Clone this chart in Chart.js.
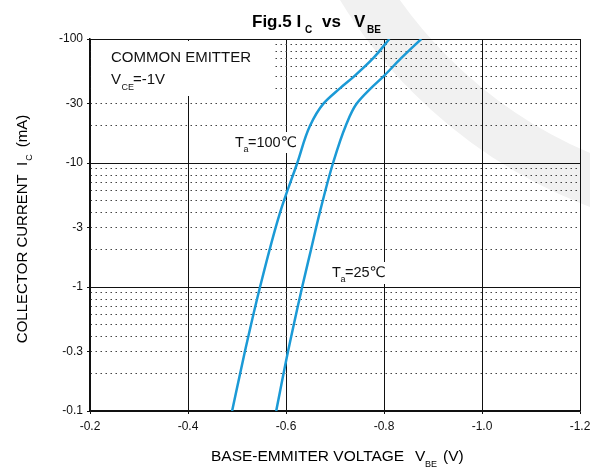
<!DOCTYPE html>
<html>
<head>
<meta charset="utf-8">
<script src="https://cdn.jsdelivr.net/npm/chart.js@4.4.0/dist/chart.umd.min.js"></script>
<style>
  body { margin: 0; background: #fff; }
  #wrap { width: 590px; height: 468px; }
</style>
</head>
<body>
<div id="wrap"><canvas id="ic-vbe" width="590" height="468"></canvas></div>
<script>
// Ta = 100 C curve (VBE in V, IC in mA)
const vbe100 = [-0.490, -0.516, -0.547, -0.588, -0.623, -0.649, -0.676, -0.710, -0.739, -0.778, -0.811];
const ic100  = [-0.1, -0.3, -1, -4, -10, -20, -30, -40, -50, -70, -100];

// Ta = 25 C curve
const vbe25 = [-0.580, -0.604, -0.633, -0.651, -0.669, -0.696, -0.722, -0.744, -0.773, -0.799, -0.835, -0.876];
const ic25  = [-0.1, -0.3, -1, -2, -4, -10, -20, -30, -40, -50, -70, -100];

const xTickValues = [-0.2, -0.4, -0.6, -0.8, -1.0, -1.2];
const yTickLabels = [-0.1, -0.3, -1, -3, -10, -30, -100];

const FONT = '"Liberation Sans", Arial, "DejaVu Sans", "Noto Sans CJK SC", sans-serif';
const LINE_COLOR = '#1b9ad6';

// every 1..9 step of each decade, as magnitudes for the log axis
const yGridValues = [];
[0.1, 1, 10].forEach(d => {
  for (let m = 1; m <= 9; m++) yGridValues.push(Number((d * m).toPrecision(3)));
});
yGridValues.push(100);

const isDecade = v => Math.abs(Math.log10(v) - Math.round(Math.log10(v))) < 1e-6;
const labelled = v => yTickLabels.some(l => Math.abs(Math.abs(l) - v) < 1e-9);

function toPoints(xs, ys) {
  return xs.map((x, i) => ({ x: x, y: Math.abs(ys[i]) }));
}

// draws text pieces [text, x, baseline, size, bold]
function drawPieces(ctx, pieces) {
  pieces.forEach(p => {
    ctx.font = (p[4] ? 'bold ' : '') + p[3] + 'px ' + FONT;
    ctx.fillText(p[0], p[1], p[2]);
  });
}

const decorations = {
  id: 'decorations',
  beforeDraw(chart) {
    // faint watermark band
    const ctx = chart.ctx;
    ctx.save();
    ctx.strokeStyle = '#f1f1f1';
    ctx.lineWidth = 50;
    ctx.beginPath();
    ctx.arc(766, -260, 474, 0, Math.PI * 2);
    ctx.stroke();
    ctx.restore();
  },
  beforeDatasetsDraw(chart) {
    const ctx = chart.ctx;
    ctx.save();
    // white boxes behind the notes
    ctx.fillStyle = '#fff';
    ctx.fillRect(91, 41, 181, 55);
    ctx.fillRect(233, 132, 67, 21);
    ctx.fillRect(330, 262, 57, 22);

    ctx.fillStyle = '#111';
    ctx.textAlign = 'left';
    ctx.textBaseline = 'alphabetic';
    drawPieces(ctx, [
      ['COMMON EMITTER', 111, 62, 15],
      ['V', 111, 84, 15],
      ['CE', 121.5, 90, 9],
      ['=-1V', 133, 84, 15],
      ['T', 235, 147, 14.5],
      ['a', 243.5, 152, 9],
      ['=100\u2103', 248, 147, 14.5],
      ['T', 332, 277, 14.5],
      ['a', 340.5, 282, 9],
      ['=25\u2103', 345, 277, 14.5]
    ]);
    ctx.restore();
  },
  afterDraw(chart) {
    const ctx = chart.ctx;
    ctx.save();
    ctx.fillStyle = '#000';
    ctx.textAlign = 'left';
    ctx.textBaseline = 'alphabetic';
    // title
    drawPieces(ctx, [
      ['Fig.5 I', 252, 27, 17, true],
      ['C', 305, 33, 10, true],
      ['vs', 322, 27, 17, true],
      ['V', 354, 27, 17, true],
      ['BE', 367, 33, 10, true]
    ]);
    // x axis title
    drawPieces(ctx, [
      ['BASE-EMMITER VOLTAGE', 211, 461, 15.5],
      ['V', 415, 461, 15.5],
      ['BE', 425, 467, 9],
      ['(V)', 443, 461, 15.5]
    ]);
    // y axis title, rotated
    ctx.translate(27, 229);
    ctx.rotate(-Math.PI / 2);
    ctx.font = '15px ' + FONT;
    const a = 'COLLECTOR CURRENT  I';
    const b = '(mA)';
    const wa = ctx.measureText(a).width;
    const wb = ctx.measureText(b).width;
    ctx.font = '9px ' + FONT;
    const wc = ctx.measureText('C').width;
    const total = wa + wc + 8 + wb;
    let x0 = -total / 2;
    drawPieces(ctx, [
      [a, x0, 0, 15],
      ['C', x0 + wa + 1, 5, 9],
      [b, x0 + wa + wc + 8, 0, 15]
    ]);
    ctx.restore();
  }
};

const ctx = document.getElementById('ic-vbe');
new Chart(ctx, {
  type: 'line',
  data: {
    datasets: [
      {
        label: 'Ta=100\u2103',
        data: toPoints(vbe100, ic100),
        indexAxis: 'y',
        borderColor: LINE_COLOR,
        borderWidth: 2.5,
        pointRadius: 0,
        cubicInterpolationMode: 'monotone',
        fill: false
      },
      {
        label: 'Ta=25\u2103',
        data: toPoints(vbe25, ic25),
        indexAxis: 'y',
        borderColor: LINE_COLOR,
        borderWidth: 2.5,
        pointRadius: 0,
        cubicInterpolationMode: 'monotone',
        fill: false
      }
    ]
  },
  options: {
    responsive: false,
    animation: false,
    devicePixelRatio: 1,
    layout: { padding: { top: 39, right: 10, left: 0, bottom: 0 } },
    plugins: {
      legend: { display: false },
      tooltip: { enabled: false },
      title: { display: false }
    },
    scales: {
      x: {
        type: 'linear',
        min: -1.2,
        max: -0.2,
        reverse: true,
        afterBuildTicks: s => { s.ticks = xTickValues.map(v => ({ value: v })); },
        afterFit: s => { s.height = 57; s.paddingLeft = 0; s.paddingRight = 0; },
        ticks: {
          autoSkip: false,
          maxRotation: 0,
          padding: 5,
          color: '#111',
          font: { family: FONT, size: 12 },
          callback: v => Number(v).toFixed(1)
        },
        grid: { color: '#111', lineWidth: 1, tickLength: 3, tickColor: '#111' },
        border: { color: '#111', width: 1.5 }
      },
      y: {
        type: 'logarithmic',
        min: 0.1,
        max: 100,
        afterBuildTicks: s => { s.ticks = yGridValues.map(v => ({ value: v })); },
        afterFit: s => { s.width = 90; s.paddingTop = 0; s.paddingBottom = 0; },
        ticks: {
          autoSkip: false,
          padding: 4,
          color: '#111',
          font: { family: FONT, size: 12 },
          callback: v => labelled(v) ? '-' + v : ''
        },
        grid: {
          color: c => isDecade(c.tick.value) ? '#111' : '#444',
          lineWidth: 1,
          tickLength: 3,
          tickColor: c => labelled(c.tick.value) ? '#111' : 'rgba(0,0,0,0)'
        },
        border: {
          color: '#111',
          width: 1.5,
          dash: c => (c.tick && !isDecade(c.tick.value)) ? [1.5, 3.5] : []
        }
      }
    }
  },
  plugins: [decorations]
});
</script>
</body>
</html>
